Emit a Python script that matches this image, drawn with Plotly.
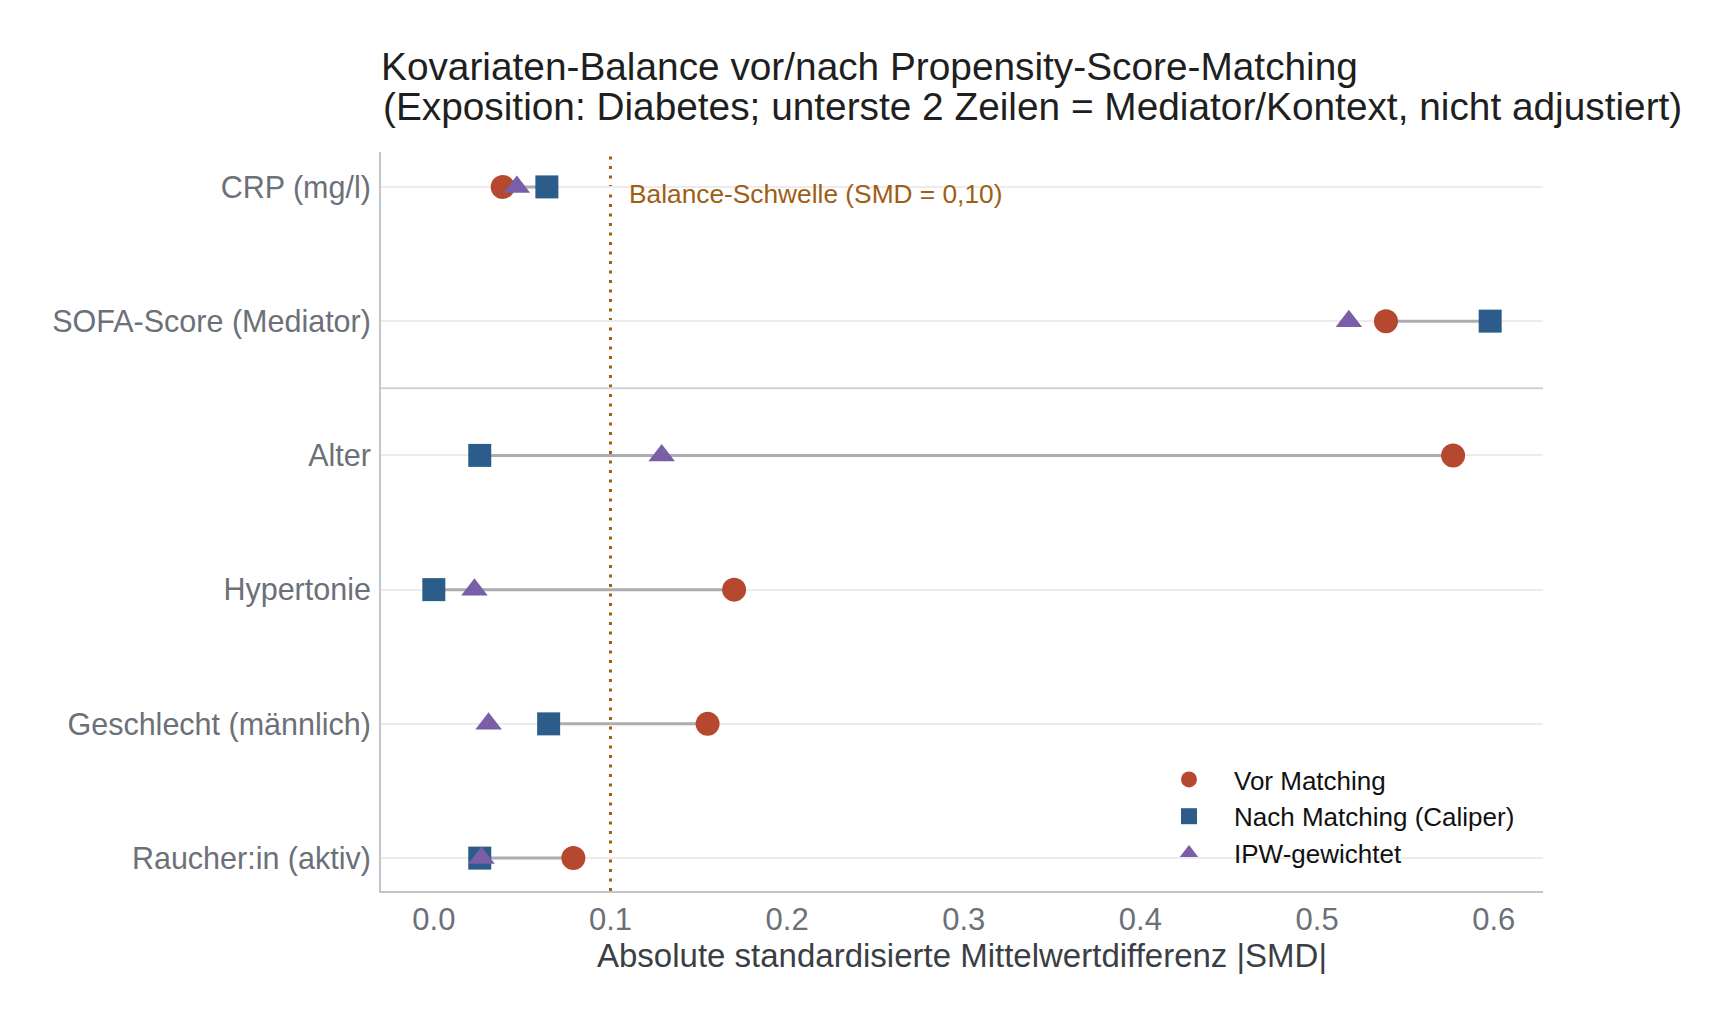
import plotly.graph_objects as go

# ---- data ----
covariates = ["Raucher:in (aktiv)", "Geschlecht (männlich)", "Hypertonie",
              "Alter", "SOFA-Score (Mediator)", "CRP (mg/l)"]
smd_vor = [0.079, 0.155, 0.170, 0.577, 0.539, 0.039]
smd_nach = [0.026, 0.065, 0.000, 0.026, 0.598, 0.064]
smd_ipw = [0.027, 0.031, 0.023, 0.129, 0.518, 0.047]
threshold = 0.10
x_ticks = [0.0, 0.1, 0.2, 0.3, 0.4, 0.5, 0.6]

title_line1 = "Kovariaten-Balance vor/nach Propensity-Score-Matching"
title_line2 = "(Exposition: Diabetes; unterste 2 Zeilen = Mediator/Kontext, nicht adjustiert)"

FONT = "Liberation Sans, Arial, Helvetica, sans-serif"
C_VOR = "#b5482f"
C_NACH = "#2b5c8a"
C_IPW = "#7b5ea8"
C_SEG = "#abadb1"
C_THR = "#9e5e14"

fig = go.Figure()

# segments between Vor and Nach
seg_x, seg_y = [], []
for c, v, n in zip(covariates, smd_vor, smd_nach):
    seg_x += [v, n, None]
    seg_y += [c, c, None]
fig.add_trace(go.Scatter(x=seg_x, y=seg_y, mode="lines",
                         line=dict(color=C_SEG, width=3),
                         showlegend=False, hoverinfo="skip"))

fig.add_trace(go.Scatter(x=smd_vor, y=covariates, mode="markers", name="Vor Matching",
                         marker=dict(symbol="circle", size=24, color=C_VOR)))
fig.add_trace(go.Scatter(x=smd_nach, y=covariates, mode="markers", name="Nach Matching (Caliper)",
                         marker=dict(symbol="square", size=23, color=C_NACH)))
fig.add_trace(go.Scatter(x=smd_ipw, y=covariates, mode="markers", name="IPW-gewichtet",
                         marker=dict(symbol="triangle-up", size=23, color=C_IPW)))

# threshold line
fig.add_shape(type="line", xref="x", yref="paper", x0=threshold, x1=threshold, y0=0, y1=1,
              line=dict(color=C_THR, width=3, dash="3px,6.5px"), layer="below")
# separator between adjusted covariates and mediator/context rows
fig.add_shape(type="line", xref="paper", yref="y", x0=0, x1=1, y0=3.5, y1=3.5,
              line=dict(color="#d2d2d2", width=2), layer="below")

fig.add_annotation(x=threshold, y=covariates[-1], xref="x", yref="y",
                   text="Balance-Schwelle (SMD = 0,10)", showarrow=False,
                   xanchor="left", yanchor="middle", xshift=17, yshift=-7,
                   font=dict(family=FONT, size=26.3, color=C_THR))

# second title line
fig.add_annotation(x=0, xref="paper", xanchor="left",
                   y=(891 - 106) / 739, yref="paper", yanchor="middle",
                   text=title_line2, showarrow=False,
                   font=dict(family=FONT, size=38.8, color="#1f1f1f"))

fig.update_layout(
    width=1732, height=1024,
    margin=dict(l=381, r=189, t=152, b=133),
    paper_bgcolor="white", plot_bgcolor="white",
    font=dict(family=FONT),
    title=dict(text=title_line1,
               x=381 / 1732, xanchor="left", xref="container",
               y=1 - 66 / 1024, yanchor="middle", yref="container",
               font=dict(family=FONT, size=38.8, color="#1f1f1f")),
    xaxis=dict(range=[-0.0299, 0.6279], tickvals=x_ticks,
               ticktext=[f"{t:.1f}" for t in x_ticks],
               showgrid=False, zeroline=False,
               showline=True, linecolor="#c3c6cb", linewidth=2,
               ticks="", ticklabelstandoff=0,
               tickfont=dict(family=FONT, size=31, color="#6b7079"),
               title=dict(text="Absolute standardisierte Mittelwertdifferenz |SMD|",
                          standoff=8,
                          font=dict(family=FONT, size=33, color="#3b3f45"))),
    yaxis=dict(type="category", categoryorder="array", categoryarray=covariates,
               range=[-0.245, 5.26],
               showgrid=True, gridcolor="#ececec", gridwidth=1.5,
               zeroline=False, showline=True, linecolor="#c3c6cb", linewidth=2,
               ticks="", ticklabelstandoff=2,
               tickfont=dict(family=FONT, size=30.5, color="#6b7079")),
    legend=dict(x=(1144 - 381) / 1162, xanchor="left", y=(891 - 756) / 739, yanchor="top",
                bgcolor="rgba(0,0,0,0)", borderwidth=0, itemwidth=80,
                font=dict(family=FONT, size=26, color="#111111")),
)

fig.write_html("out.html")
